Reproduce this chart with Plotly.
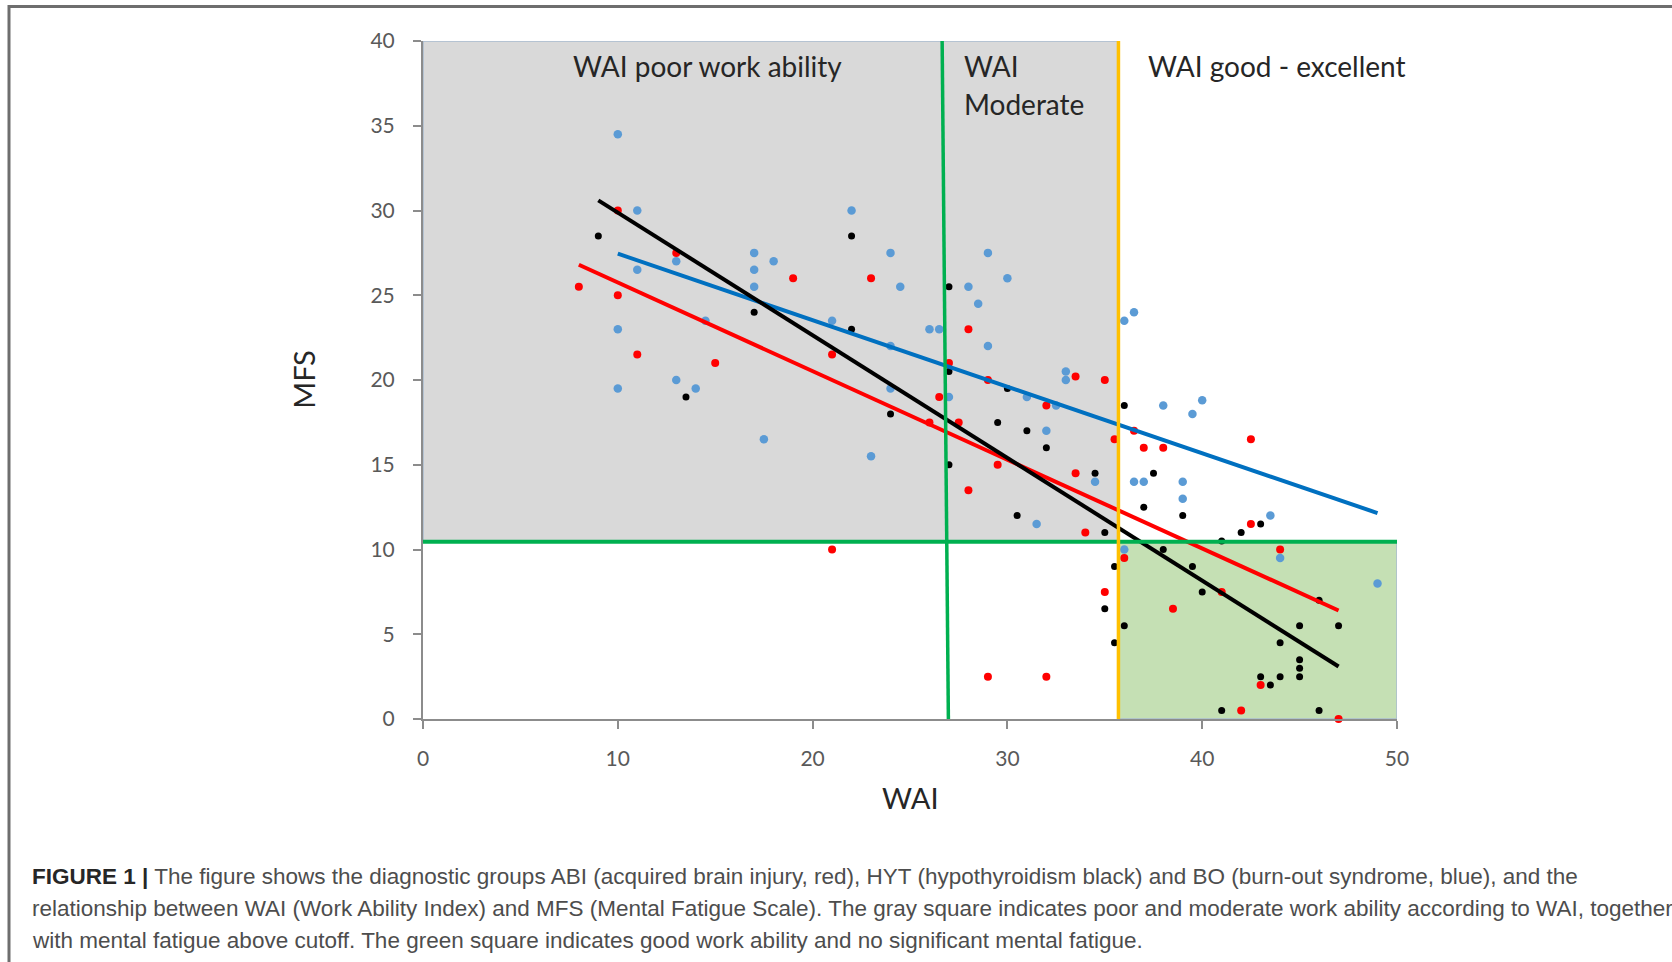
import plotly.graph_objects as go

# ---- data: WAI (x) and MFS (y) per diagnostic group ----
abi_wai = [8, 10, 10, 11, 13, 15, 19, 21, 21, 23, 26, 26.5, 27, 27.5, 28, 28, 29, 29.5, 29,
           32, 32, 33.5, 33.5, 34, 35, 35.5, 35, 36, 36.5, 37, 38, 38.5, 41, 42.5, 42.5, 42, 43, 44, 47]
abi_mfs = [25.5, 30, 25, 21.5, 27.5, 21, 26, 21.5, 10, 26, 17.5, 19, 21, 17.5, 23, 13.5, 20, 15, 2.5,
           18.5, 2.5, 20.2, 14.5, 11, 20, 16.5, 7.5, 9.5, 17, 16, 16, 6.5, 7.5, 16.5, 11.5, 0.5, 2, 10, 0]

hyt_wai = [9, 13.5, 17, 22, 22, 24, 27, 27, 27, 29.5, 30, 30.5, 31, 32, 34.5, 35, 35.5, 35, 35.5,
           36, 36, 37, 37.5, 38, 39, 39.5, 40, 41, 42, 43, 41, 43, 43.5, 44, 44, 45, 45, 45, 45, 46, 46, 47]
hyt_mfs = [28.5, 19, 24, 28.5, 23, 18, 25.5, 20.5, 15, 17.5, 19.5, 12, 17, 16, 14.5, 11, 9, 6.5, 4.5,
           18.5, 5.5, 12.5, 14.5, 10, 12, 9, 7.5, 10.5, 11, 11.5, 0.5, 2.5, 2, 4.5, 2.5, 5.5, 3.5, 3, 2.5, 7, 0.5, 5.5]

bo_wai = [10, 10, 10, 11, 11, 13, 13, 14, 14.5, 17, 17, 17, 17.5, 18, 21, 22, 23, 24, 24, 24, 24.5,
          26, 26.5, 27, 28, 28.5, 29, 29, 30, 31, 31.5, 32, 32.5, 33, 33, 34.5, 36, 36.5, 36, 36.5, 37,
          38, 39, 39, 39.5, 40, 43.5, 44, 49]
bo_mfs = [34.5, 23, 19.5, 30, 26.5, 27, 20, 19.5, 23.5, 27.5, 26.5, 25.5, 16.5, 27, 23.5, 30, 15.5, 27.5, 22, 19.5, 25.5,
          23, 23, 19, 25.5, 24.5, 27.5, 22, 26, 19, 11.5, 17, 18.5, 20.5, 20, 14, 23.5, 24, 10, 14, 14,
          18.5, 14, 13, 18, 18.8, 12, 9.5, 8]

# linear trend lines (start / end)
abi_trend_wai, abi_trend_mfs = [8, 47], [26.8, 6.4]
hyt_trend_wai, hyt_trend_mfs = [9, 47], [30.6, 3.1]
bo_trend_wai, bo_trend_mfs = [10, 49], [27.45, 12.15]

# cut-offs
WAI_MODERATE_TOP, WAI_MODERATE_BOTTOM = 26.65, 26.97
WAI_GOOD = 35.7
MFS_CUTOFF = 10.45

# ---- page geometry (pixels) ----
W, H = 1672, 962
PL, PR, PT, PB = 423, 1397, 40.5, 719


def px_x(px):
    return (px - PL) / (PR - PL)


def px_y(py):
    return (PB - py) / (PB - PT)


CHART_FONT = "Lato"
fig = go.Figure()

fig.add_trace(go.Scatter(x=abi_wai, y=abi_mfs, mode="markers", name="ABI",
                         marker=dict(color="#ff0000", size=8), cliponaxis=False))
fig.add_trace(go.Scatter(x=hyt_wai, y=hyt_mfs, mode="markers", name="HYT",
                         marker=dict(color="#000000", size=7), cliponaxis=False))
fig.add_trace(go.Scatter(x=bo_wai, y=bo_mfs, mode="markers", name="BO",
                         marker=dict(color="#5b9bd5", size=8.5), cliponaxis=False))

fig.add_trace(go.Scatter(x=bo_trend_wai, y=bo_trend_mfs, mode="lines",
                         line=dict(color="#0070c0", width=4)))
fig.add_trace(go.Scatter(x=abi_trend_wai, y=abi_trend_mfs, mode="lines",
                         line=dict(color="#ff0000", width=4)))
fig.add_trace(go.Scatter(x=hyt_trend_wai, y=hyt_trend_mfs, mode="lines",
                         line=dict(color="#000000", width=4)))

shapes = [
    # gray zone: poor / moderate work ability with fatigue above cutoff
    dict(type="rect", xref="x", yref="y", x0=0, x1=WAI_GOOD, y0=MFS_CUTOFF, y1=40,
         fillcolor="#d9d9d9", line=dict(color="#a9bccf", width=1.5), layer="below"),
    # green zone: good work ability, no significant fatigue
    dict(type="rect", xref="x", yref="y", x0=WAI_GOOD, x1=50, y0=0, y1=MFS_CUTOFF,
         fillcolor="#c5e0b4", line=dict(color="#a9bccf", width=1.5), layer="below"),
    # cut-off lines
    dict(type="line", xref="x", yref="y", x0=WAI_MODERATE_TOP, x1=WAI_MODERATE_BOTTOM, y0=40, y1=0,
         line=dict(color="#00b050", width=3.5), layer="above"),
    dict(type="line", xref="x", yref="y", x0=0, x1=50, y0=MFS_CUTOFF, y1=MFS_CUTOFF,
         line=dict(color="#00b050", width=4), layer="above"),
    dict(type="line", xref="x", yref="y", x0=WAI_GOOD, x1=WAI_GOOD, y0=0, y1=40,
         line=dict(color="#ffc000", width=3.5), layer="above"),
    # figure frame
    dict(type="rect", xref="paper", yref="paper", x0=px_x(9), x1=px_x(1690),
         y0=px_y(6), y1=px_y(990), line=dict(color="#6e6e6e", width=3),
         fillcolor="rgba(0,0,0,0)", layer="below"),
]

zone_font = dict(family=CHART_FONT, size=28, color="#262626")
annotations = [
    dict(x=7.6, y=38.5, xref="x", yref="y", text="WAI poor work ability", showarrow=False,
         xanchor="left", yanchor="middle", font=zone_font),
    dict(x=27.66, y=38.5, xref="x", yref="y", text="WAI", showarrow=False,
         xanchor="left", yanchor="middle", font=zone_font),
    dict(x=27.66, y=36.3, xref="x", yref="y", text="Moderate", showarrow=False,
         xanchor="left", yanchor="middle", font=zone_font),
    dict(x=37.13, y=38.5, xref="x", yref="y", text="WAI good - excellent", showarrow=False,
         xanchor="left", yanchor="middle", font=zone_font),
    # axis titles
    dict(x=px_x(910), y=px_y(797.6), xref="paper", yref="paper", text="WAI", showarrow=False,
         xanchor="center", yanchor="middle", font=dict(family=CHART_FONT, size=29, color="#262626")),
    dict(x=px_x(304), y=px_y(379.5), xref="paper", yref="paper", text="MFS", showarrow=False,
         textangle=-90, xanchor="center", yanchor="middle",
         font=dict(family=CHART_FONT, size=29, color="#262626")),
]

caption_font = dict(family="Liberation Sans", size=22.5, color="#4d4d4d")
caption_lines = [
    "<b style='color:#262626'>FIGURE 1 |</b> The figure shows the diagnostic groups ABI (acquired brain injury, red), "
    "HYT (hypothyroidism black) and BO (burn-out syndrome, blue), and the",
    "relationship between WAI (Work Ability Index) and MFS (Mental Fatigue Scale). The gray square indicates "
    "poor and moderate work ability according to WAI, together",
    "with mental fatigue above cutoff. The green square indicates good work ability and no significant mental fatigue.",
]
for text, cy in zip(caption_lines, [876.5, 908.5, 940.5]):
    annotations.append(dict(x=px_x(30), y=px_y(cy), xref="paper", yref="paper", text=text,
                            showarrow=False, xanchor="left", yanchor="middle", font=caption_font))

axis_common = dict(showline=True, linecolor="#8c8c8c", linewidth=2, ticks="outside", ticklen=8,
                   tickwidth=2, tickcolor="#8c8c8c", showgrid=False, zeroline=False,
                   tickfont=dict(family=CHART_FONT, size=21, color="#595959"))

fig.update_layout(
    width=W, height=H,
    margin=dict(l=PL, r=W - PR, t=PT, b=H - PB),
    paper_bgcolor="white", plot_bgcolor="white",
    showlegend=False,
    shapes=shapes, annotations=annotations,
    xaxis=dict(range=[0, 50], tickvals=[0, 10, 20, 30, 40, 50], ticklabelstandoff=12, **axis_common),
    yaxis=dict(range=[0, 40], tickvals=list(range(0, 41, 5)), ticklabelstandoff=14, **axis_common),
)

fig.write_html("out.html")
